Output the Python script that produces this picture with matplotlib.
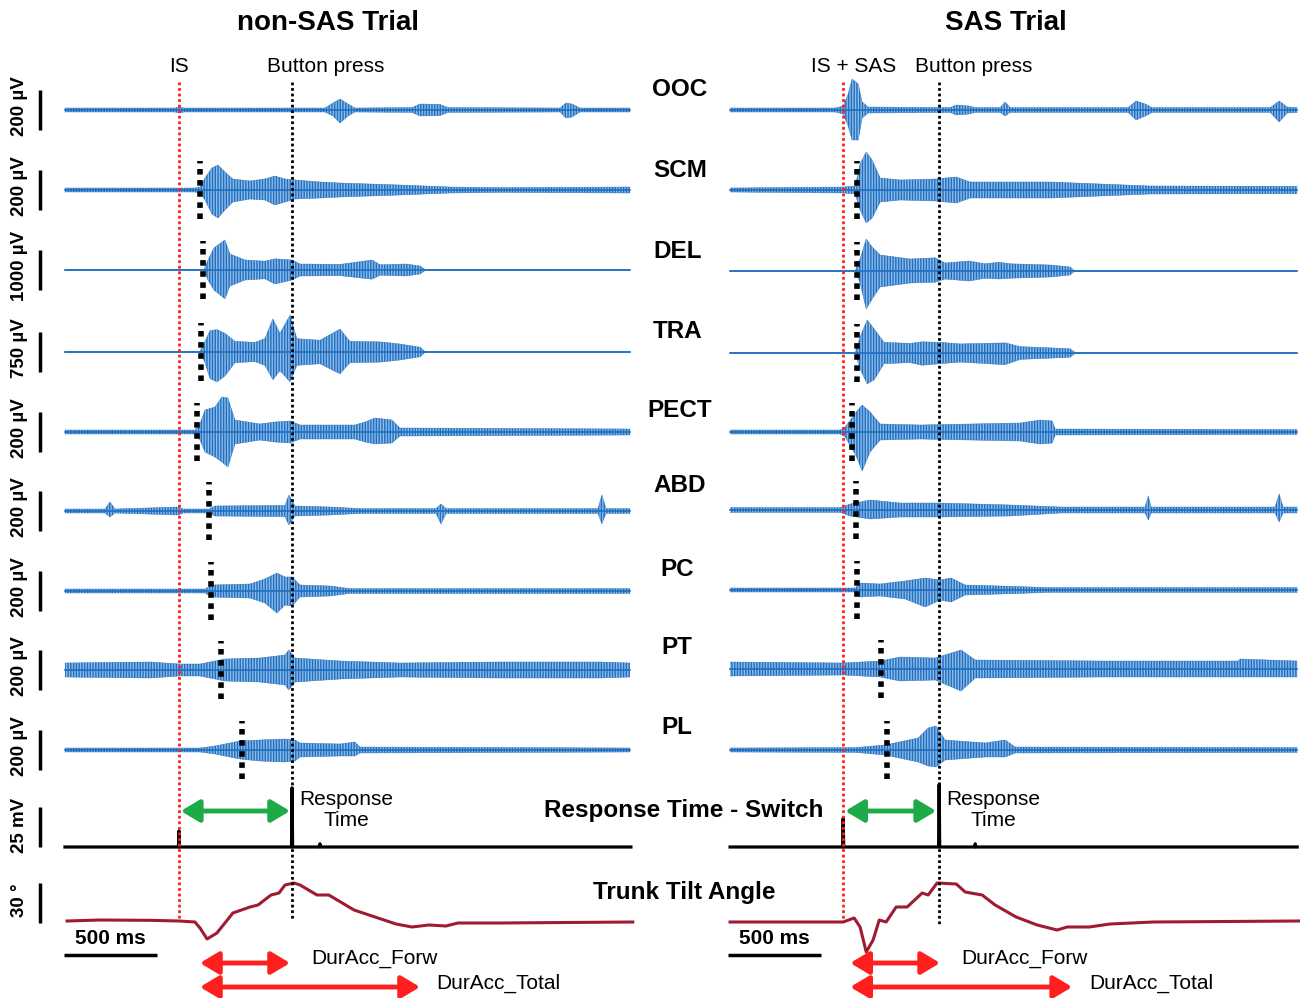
import matplotlib
matplotlib.use('Agg')
import matplotlib.pyplot as plt
import numpy as np

plt.rcParams['font.family'] = ['Liberation Sans', 'DejaVu Sans']
plt.rcParams['hatch.color'] = '#1f6fc0'
plt.rcParams['hatch.linewidth'] = 1.0

# ---------------- data (times in ms relative to imperative stimulus) ----------------
MUSCLES = ['OOC', 'SCM', 'DEL', 'TRA', 'PECT', 'ABD', 'PC', 'PT', 'PL']
SCALES_UV = [200, 200, 1000, 750, 200, 200, 200, 200, 200]
BUTTON_T_L = 608
BUTTON_T_R = 516
ONSET_L = [None, 113, 129, 118, 97, 161, 172, 226, 339]
ONSET_R = [None, 75, 75, 75, 48, 70, 75, 204, 237]

# EMG envelopes: (time ms, upper uV, lower uV)
OOC_L = [(-613, 10, 10), (-22, 10, 10), (0, 15, 15), (27, 10, 10), (785, 10, 10), (828, 35, 30),
         (866, 55, 65), (909, 30, 30), (946, 10, 10), (1253, 12, 12), (1296, 30, 30), (1403, 28, 28),
         (1446, 12, 12), (2049, 10, 10), (2081, 35, 40), (2113, 30, 35), (2156, 10, 10), (2425, 10, 10)]
SCM_L = [(-613, 10, 10), (86, 10, 10), (113, 15, 15), (140, 60, 50), (177, 110, 120), (210, 125, 140),
         (247, 90, 100), (290, 55, 60), (382, 45, 45), (462, 55, 50), (516, 70, 75), (570, 55, 60),
         (624, 50, 45), (758, 40, 40), (866, 35, 35), (1027, 30, 30), (1188, 25, 25), (1457, 15, 15),
         (1726, 12, 12), (2425, 15, 15)]
DEL_L = [(-613, 10, 10), (134, 10, 10), (156, 250, 250), (188, 550, 500), (247, 750, 720), (274, 400, 400),
         (355, 250, 250), (462, 220, 220), (516, 280, 350), (608, 250, 250), (651, 150, 150), (866, 140, 140),
         (1038, 250, 230), (1081, 130, 130), (1221, 150, 150), (1296, 100, 100), (1323, 15, 15), (2425, 10, 10)]
TRA_L = [(-613, 10, 10), (113, 10, 10), (140, 200, 200), (167, 400, 500), (204, 420, 560), (247, 350, 450),
         (301, 200, 200), (409, 180, 180), (462, 250, 250), (505, 620, 520), (543, 350, 350), (597, 690, 560),
         (634, 250, 250), (758, 220, 220), (866, 430, 410), (919, 200, 200), (1081, 190, 190), (1188, 150, 150),
         (1296, 90, 90), (1323, 10, 10), (2425, 10, 10)]
PECT_L = [(-613, 10, 10), (86, 10, 10), (113, 40, 40), (140, 110, 100), (194, 125, 125), (231, 175, 150),
          (263, 170, 175), (301, 60, 60), (435, 40, 40), (516, 50, 50), (597, 55, 55), (651, 35, 35),
          (946, 35, 35), (1000, 50, 50), (1054, 70, 60), (1145, 60, 55), (1188, 20, 20), (2425, 15, 15)]
ABD_L = [(-613, 10, 10), (-398, 10, 10), (-371, 45, 30), (-344, 10, 10), (0, 20, 20), (22, 10, 10),
         (161, 10, 10), (194, 25, 25), (570, 28, 28), (591, 80, 70), (624, 25, 25), (812, 20, 20),
         (973, 12, 12), (1382, 12, 12), (1409, 35, 65), (1436, 12, 12), (2253, 12, 12), (2274, 80, 65),
         (2296, 12, 12), (2425, 12, 12)]
PC_L = [(-613, 10, 10), (140, 10, 10), (177, 30, 30), (382, 35, 35), (462, 60, 60), (527, 90, 110),
        (570, 70, 70), (608, 70, 75), (651, 30, 30), (812, 25, 25), (919, 12, 12), (2425, 12, 12)]
PT_L = [(-613, 35, 35), (-156, 40, 40), (0, 30, 30), (113, 30, 30), (247, 55, 55), (435, 60, 60),
        (570, 75, 75), (591, 100, 100), (624, 60, 60), (866, 45, 45), (1188, 35, 35), (1726, 40, 40),
        (2264, 40, 40), (2425, 35, 35)]
PL_L = [(-613, 10, 10), (113, 10, 10), (194, 20, 20), (328, 45, 45), (435, 50, 55), (570, 55, 60),
        (624, 50, 55), (651, 35, 35), (866, 30, 30), (946, 40, 30), (973, 15, 15), (2425, 10, 10)]

OOC_R = [(-608, 10, 10), (-43, 10, 10), (0, 20, 20), (27, 80, 80), (48, 155, 150), (81, 130, 150),
         (102, 40, 40), (134, 15, 15), (575, 12, 12), (608, 25, 25), (677, 20, 20), (710, 12, 12),
         (844, 12, 12), (871, 40, 30), (898, 12, 12), (1532, 12, 12), (1575, 45, 50), (1624, 30, 30),
         (1661, 12, 12), (2296, 12, 12), (2344, 45, 60), (2387, 15, 15), (2441, 12, 12)]
SCM_R = [(-608, 10, 10), (0, 15, 15), (65, 20, 20), (91, 130, 100), (124, 190, 165), (156, 150, 140),
         (199, 60, 60), (306, 50, 50), (495, 55, 55), (608, 65, 65), (683, 40, 40), (1113, 40, 40),
         (1382, 30, 30), (1650, 20, 20), (2441, 18, 18)]
DEL_R = [(-608, 10, 10), (65, 10, 10), (91, 300, 300), (124, 800, 950), (156, 600, 700), (199, 400, 400),
         (360, 300, 300), (495, 330, 280), (548, 200, 200), (677, 250, 250), (763, 180, 180), (839, 220, 200),
         (898, 180, 180), (1113, 150, 150), (1220, 100, 100), (1242, 12, 12), (2441, 10, 10)]
TRA_R = [(-608, 10, 10), (65, 10, 10), (91, 300, 300), (129, 620, 580), (167, 450, 500), (220, 200, 200),
         (360, 180, 180), (425, 210, 230), (521, 200, 200), (629, 170, 170), (871, 190, 220), (952, 120, 120),
         (1220, 80, 80), (1247, 10, 10), (2441, 10, 10)]
PECT_R = [(-608, 10, 10), (-16, 10, 10), (11, 25, 25), (70, 100, 120), (102, 135, 195), (145, 100, 100),
          (199, 40, 40), (414, 35, 35), (952, 45, 45), (1059, 60, 60), (1124, 55, 55), (1140, 15, 15),
          (2441, 12, 12)]
ABD_R = [(-608, 12, 12), (-16, 12, 12), (38, 30, 30), (145, 50, 45), (306, 35, 35), (521, 35, 35),
         (898, 25, 30), (1167, 15, 15), (1623, 15, 15), (1640, 70, 50), (1656, 15, 15), (2322, 15, 15),
         (2344, 80, 60), (2365, 15, 15), (2441, 15, 15)]
PC_R = [(-608, 10, 10), (65, 10, 10), (91, 35, 35), (199, 30, 30), (333, 45, 45), (441, 60, 85),
        (521, 50, 50), (580, 60, 60), (656, 25, 25), (844, 20, 20), (1113, 12, 12), (2441, 12, 12)]
PT_R = [(-608, 35, 35), (0, 30, 30), (199, 40, 40), (306, 60, 60), (495, 55, 55), (634, 95, 110),
        (710, 45, 45), (1382, 40, 40), (2123, 40, 40), (2134, 50, 40), (2441, 40, 40)]
PL_R = [(-608, 10, 10), (65, 12, 12), (226, 25, 25), (403, 60, 60), (457, 110, 80), (500, 120, 85),
        (548, 50, 50), (763, 35, 35), (871, 50, 35), (925, 15, 15), (2441, 12, 12)]

EMG_L = [OOC_L, SCM_L, DEL_L, TRA_L, PECT_L, ABD_L, PC_L, PT_L, PL_L]
EMG_R = [OOC_R, SCM_R, DEL_R, TRA_R, PECT_R, ABD_R, PC_R, PT_R, PL_R]

# Response switch (mV)
SWITCH_L_T = [-613, -3, 0, 3, 605, 608, 611, 755, 758, 761, 2430]
SWITCH_L_V = [0, 0, 10, 0, 0, 37, 0, 0, 2, 0, 0]
SWITCH_R_T = [-608, -3, 0, 3, 513, 516, 519, 707, 710, 713, 2441]
SWITCH_R_V = [0, 0, 18, 0, 0, 39, 0, 0, 2, 0, 0]

# Trunk tilt angle (deg)
TRUNK_L_T = [-602, -425, -156, 0, 86, 113, 151, 204, 290, 382, 425, 495, 538, 570, 618, 651, 742, 806,
             941, 1054, 1167, 1253, 1344, 1435, 1500, 1726, 2440]
TRUNK_L_V = [0, 0.75, 0.5, 0, -0.75, -5.25, -13.5, -9, 6, 10.5, 12, 19.5, 21, 27, 28.5, 27, 19.5, 19.5,
             8.25, 3, -2.25, -4.5, -3, -3.75, -1.5, -1.5, -0.75]
TRUNK_R_T = [-608, 0, 59, 91, 124, 161, 194, 231, 285, 344, 425, 457, 505, 608, 656, 747, 817, 930,
             1043, 1150, 1204, 1323, 1435, 1667, 2450]
TRUNK_R_V = [-0.75, -0.75, 2.25, -4.5, -23.25, -14.25, 0.75, -0.75, 10.5, 10.5, 21, 19.5, 28.5, 27.75,
             21.75, 19.5, 12, 3, -3, -6.75, -4.5, -4.5, -2.25, -0.75, 0]

RESP_ARROW_L = (10, 597)
RESP_ARROW_R = (11, 500)
DURACC_FORW_L = (113, 597)
DURACC_TOTAL_L = (113, 1296)
DURACC_FORW_R = (38, 521)
DURACC_TOTAL_R = (38, 1231)

# ---------------- layout ----------------
W, H = 1306, 998
BLUE = '#1f6fc0'
FILL = '#8fbbe8'
TRUNK_C = '#9e1b32'
RED = '#ff1f1f'
GREEN = '#1eaa48'

PANELS = {'L': dict(x0=62, x1=635, tlim=(-629, 2452)),
          'R': dict(x0=727, x1=1300, tlim=(-624.5, 2456))}
BASE_L = [110, 190, 270, 352, 432, 511, 591, 670, 750]
BASE_R = [110, 190, 271, 353, 432, 510, 590, 669, 750]
SWITCH_BASE = 847
TRUNK_BASE = 921
SB_T = -747      # scale bar time position (left of panel)
SBTXT_T = -855

fig = plt.figure(figsize=(W / 100, H / 100), dpi=100)


def row_axes(panel, base_px, upp, half=40):
    p = PANELS[panel]
    ax = fig.add_axes([p['x0'] / W, 1 - (base_px + half) / H, (p['x1'] - p['x0']) / W, 2 * half / H])
    ax.set_xlim(*p['tlim'])
    ax.set_ylim(-half * upp, half * upp)
    ax.axis('off')
    return ax


for panel, bases, emgs, onsets in (('L', BASE_L, EMG_L, ONSET_L), ('R', BASE_R, EMG_R, ONSET_R)):
    for i, name in enumerate(MUSCLES):
        S = SCALES_UV[i]
        ax = row_axes(panel, bases[i], S / 40.0)
        arr = np.array(emgs[i], dtype=float)
        t, up, lo = arr[:, 0], arr[:, 1], arr[:, 2]
        ax.fill_between(t, -lo, up, facecolor=FILL, edgecolor=BLUE, hatch='||||||', linewidth=0.0)
        ax.plot(t, up, color=BLUE, lw=0.35, alpha=0.8)
        ax.plot(t, -lo, color=BLUE, lw=0.35, alpha=0.8)
        ax.plot(t, np.zeros_like(t), color=BLUE, lw=1.2)
        if onsets[i] is not None:
            ax.vlines(onsets[i], -0.725 * S, 0.725 * S, colors='k', linestyles=(0, (1, 1)), lw=4, zorder=5)
        if panel == 'L':
            ax.plot([SB_T, SB_T], [-S / 2, S / 2], color='k', lw=2.5, clip_on=False, solid_capstyle='butt')
            ax.text(SBTXT_T, S * 0.1, f'{S} µV', rotation=90, ha='center', va='center',
                    fontsize=13.5, fontweight='bold', clip_on=False)

    # response switch
    ax = row_axes(panel, SWITCH_BASE, 25 / 40.0, half=80)
    st, sv = (SWITCH_L_T, SWITCH_L_V) if panel == 'L' else (SWITCH_R_T, SWITCH_R_V)
    ax.plot(st, sv, color='k', lw=2.3)
    ra = RESP_ARROW_L if panel == 'L' else RESP_ARROW_R
    ax.annotate('', xy=(ra[1], 22.5), xytext=(ra[0], 22.5),
                arrowprops=dict(arrowstyle='<|-|>,head_length=0.45,head_width=0.27', color=GREEN, lw=3.5,
                                mutation_scale=25, shrinkA=0, shrinkB=0))
    bt = BUTTON_T_L if panel == 'L' else BUTTON_T_R
    ax.text(bt + 290, 23, 'Response\nTime', ha='center', va='center', fontsize=15, linespacing=1.15)
    if panel == 'L':
        ax.plot([SB_T, SB_T], [0, 25], color='k', lw=2.5, clip_on=False, solid_capstyle='butt')
        ax.text(SBTXT_T, 13.5, '25 mV', rotation=90, ha='center', va='center',
                fontsize=13.5, fontweight='bold', clip_on=False)

    # trunk tilt
    ax = row_axes(panel, TRUNK_BASE, 30 / 40.0, half=80)
    tt, tv = (TRUNK_L_T, TRUNK_L_V) if panel == 'L' else (TRUNK_R_T, TRUNK_R_V)
    ax.plot(tt, tv, color=TRUNK_C, lw=2.2)
    fw = DURACC_FORW_L if panel == 'L' else DURACC_FORW_R
    tot = DURACC_TOTAL_L if panel == 'L' else DURACC_TOTAL_R
    for (a, b), y, lab, off in ((fw, -31.5, 'DurAcc_Forw', 113), (tot, -49.5, 'DurAcc_Total', 90)):
        ax.annotate('', xy=(b, y), xytext=(a, y),
                    arrowprops=dict(arrowstyle='<|-|>,head_length=0.45,head_width=0.27', color=RED, lw=3.5,
                                    mutation_scale=25, shrinkA=0, shrinkB=0), annotation_clip=False)
        ax.text(b + off, y + 3, lab, ha='left', va='center', fontsize=15, clip_on=False)
    t0 = PANELS[panel]['tlim'][0] + 10 if panel == 'L' else PANELS[panel]['tlim'][0] + 6
    ax.plot([t0, t0 + 500], [-25.5, -25.5], color='k', lw=2.5, clip_on=False, solid_capstyle='butt')
    ax.text(t0 + 250, -13.5, '500 ms', ha='center', va='center', fontsize=15, fontweight='bold')
    if panel == 'L':
        ax.plot([SB_T, SB_T], [-1.5, 28.5], color='k', lw=2.5, clip_on=False, solid_capstyle='butt')
        ax.text(SBTXT_T, 15.75, '30 °', rotation=90, ha='center', va='center',
                fontsize=13.5, fontweight='bold', clip_on=False)

# overlay axes with event lines
for panel, bt, red_end, blk_end, is_lab, is_x, bp_x in (('L', BUTTON_T_L, 918, 920, 'IS', 0, 790),
                                                        ('R', BUTTON_T_R, 920, 925, 'IS + SAS', 54, 704)):
    p = PANELS[panel]
    ov = fig.add_axes([p['x0'] / W, 0, (p['x1'] - p['x0']) / W, 1])
    ov.set_xlim(*p['tlim'])
    ov.set_ylim(H, 0)
    ov.axis('off')
    ov.vlines(0, 82, red_end, colors=RED, linestyles=(0, (1, 1)), lw=2)
    ov.vlines(bt, 82, blk_end, colors='k', linestyles=(0, (1, 1)), lw=2)
    ov.text(is_x, 66, is_lab, ha='center', va='center', fontsize=15)
    ov.text(bp_x, 66, 'Button press', ha='center', va='center', fontsize=15)

# titles and labels
fig.text(328 / W, 1 - 23 / H, 'non-SAS Trial', ha='center', va='center', fontsize=20, fontweight='bold')
fig.text(1006 / W, 1 - 23 / H, 'SAS Trial', ha='center', va='center', fontsize=20, fontweight='bold')
LABEL_Y = [90, 170, 252, 332, 410, 486, 569, 648, 728]
LABEL_X = [680, 680, 678, 678, 680, 680, 677, 677, 677]
for name, lx, ly in zip(MUSCLES, LABEL_X, LABEL_Y):
    fig.text(lx / W, 1 - ly / H, name, ha='center', va='center', fontsize=17.5, fontweight='bold')
fig.text(684 / W, 1 - 811 / H, 'Response Time - Switch', ha='center', va='center', fontsize=17.5, fontweight='bold')
fig.text(684 / W, 1 - 892 / H, 'Trunk Tilt Angle', ha='center', va='center', fontsize=17.5, fontweight='bold')

fig.savefig('out.png', dpi=100, facecolor='white')
